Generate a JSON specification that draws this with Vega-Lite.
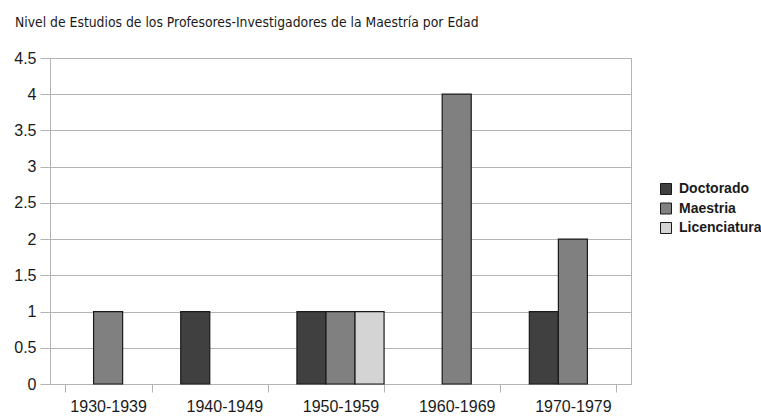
{
  "$schema": "https://vega.github.io/schema/vega-lite/v6.json",
  "width": 581,
  "height": 326,
  "autosize": {"type": "none"},
  "padding": {"left": 50, "top": 58, "right": 130, "bottom": 32},
  "background": "white",
  "config": {
    "view": {"stroke": "#b3b3b3", "strokeWidth": 1},
    "font": "Liberation Sans"
  },
  "title": {
    "text": "Nivel de Estudios de los Profesores-Investigadores de la Maestría por Edad",
    "anchor": "start",
    "frame": "group",
    "dx": -35,
    "baseline": "bottom",
    "offset": 6,
    "font": "Liberation Sans Narrow, DejaVu Sans Condensed",
    "fontSize": 13.8,
    "fontWeight": "normal",
    "color": "#1a1a1a"
  },
  "data": {
    "values": [
      {"decada": "1930-1939", "nivel": "Maestria", "cantidad": 1},
      {"decada": "1940-1949", "nivel": "Doctorado", "cantidad": 1},
      {"decada": "1950-1959", "nivel": "Doctorado", "cantidad": 1},
      {"decada": "1950-1959", "nivel": "Maestria", "cantidad": 1},
      {"decada": "1950-1959", "nivel": "Licenciatura", "cantidad": 1},
      {"decada": "1960-1969", "nivel": "Maestria", "cantidad": 4},
      {"decada": "1970-1979", "nivel": "Doctorado", "cantidad": 1},
      {"decada": "1970-1979", "nivel": "Maestria", "cantidad": 2}
    ]
  },
  "mark": {"type": "bar", "stroke": "#1a1a1a", "strokeWidth": 1.2},
  "encoding": {
    "x": {
      "field": "decada",
      "type": "nominal",
      "scale": {
        "domain": ["1930-1939", "1940-1949", "1950-1959", "1960-1969", "1970-1979"],
        "paddingInner": 0.25,
        "paddingOuter": 0.125
      },
      "axis": {
        "title": null,
        "labelAngle": 0,
        "tickBand": "extent",
        "tickSize": 8,
        "tickColor": "#b3b3b3",
        "domainColor": "#b3b3b3",
        "labelFontSize": 16,
        "labelColor": "#1a1a1a",
        "labelPadding": 6,
        "grid": false
      }
    },
    "xOffset": {
      "field": "nivel",
      "type": "nominal",
      "scale": {"domain": ["Doctorado", "Maestria", "Licenciatura"], "paddingInner": 0, "paddingOuter": 0}
    },
    "y": {
      "field": "cantidad",
      "type": "quantitative",
      "scale": {"domain": [0, 4.5], "nice": false},
      "axis": {
        "title": null,
        "values": [0, 0.5, 1, 1.5, 2, 2.5, 3, 3.5, 4, 4.5],
        "format": "~g",
        "tickSize": 10,
        "tickColor": "#b3b3b3",
        "domainColor": "#b3b3b3",
        "gridColor": "#b3b3b3",
        "labelFontSize": 16,
        "labelColor": "#1a1a1a",
        "labelPadding": 4
      }
    },
    "fill": {
      "field": "nivel",
      "type": "nominal",
      "scale": {
        "domain": ["Doctorado", "Maestria", "Licenciatura"],
        "range": ["#404040", "#808080", "#d4d4d4"]
      },
      "legend": {
        "title": null,
        "orient": "none",
        "legendX": 609,
        "legendY": 124,
        "symbolType": "square",
        "symbolSize": 121,
        "symbolStrokeColor": "#1a1a1a",
        "symbolStrokeWidth": 1,
        "symbolOpacity": 1,
        "labelFontSize": 14,
        "labelFontWeight": "bold",
        "labelColor": "#1a1a1a",
        "labelOffset": 6,
        "rowPadding": 3.5
      }
    }
  }
}
